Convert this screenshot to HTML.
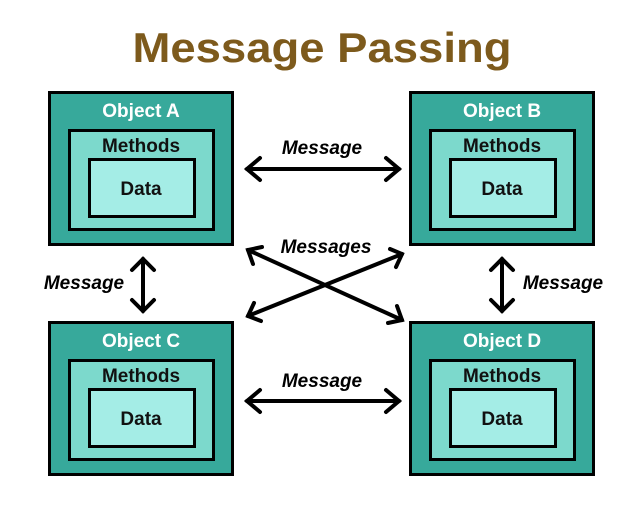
<!DOCTYPE html>
<html><head><meta charset="utf-8"><style>
html,body{margin:0;padding:0;background:#fff;width:644px;height:516px;overflow:hidden}
svg{display:block}
text{font-family:"Liberation Sans",sans-serif;font-weight:bold}
</style></head><body>
<svg width="644" height="516" viewBox="0 0 644 516">
<defs>
<g id="obj">
<rect x="1.5" y="1.5" width="183" height="152" fill="#37a99b" stroke="#000" stroke-width="3"/>
<rect x="21.5" y="39.5" width="144" height="99" fill="#7cd9cc" stroke="#000" stroke-width="3"/>
<rect x="41.5" y="68.5" width="105" height="57" fill="#a4ede6" stroke="#000" stroke-width="3"/>
<text x="93" y="61" font-size="19" text-anchor="middle" fill="#111">Methods</text>
<text x="93" y="104" font-size="19" text-anchor="middle" fill="#111">Data</text>
</g>
<marker id="ah" viewBox="0 0 10 10" refX="9" refY="5" markerWidth="5" markerHeight="5" orient="auto-start-reverse" markerUnits="userSpaceOnUse">
</marker>
</defs>
<text x="322" y="62" font-size="42" text-anchor="middle" fill="#7d5a1c" textLength="379" lengthAdjust="spacingAndGlyphs">Message Passing</text>

<use href="#obj" x="48" y="91"/>
<use href="#obj" x="409" y="91"/>
<use href="#obj" x="48" y="321"/>
<use href="#obj" x="409" y="321"/>
<text x="141" y="117" font-size="19" text-anchor="middle" fill="#fff">Object A</text>
<text x="502" y="117" font-size="19" text-anchor="middle" fill="#fff">Object B</text>
<text x="141" y="347" font-size="19" text-anchor="middle" fill="#fff">Object C</text>
<text x="502" y="347" font-size="19" text-anchor="middle" fill="#fff">Object D</text>

<g stroke="#000" stroke-width="4" fill="none" stroke-linecap="round" stroke-linejoin="miter">
<line x1="247" y1="169" x2="399" y2="169"/>
<polyline points="260,158 247,169 260,180"/>
<polyline points="386,158 399,169 386,180"/>
<line x1="247" y1="401" x2="399" y2="401"/>
<polyline points="260,390 247,401 260,412"/>
<polyline points="386,390 399,401 386,412"/>
<line x1="143" y1="259" x2="143" y2="311"/>
<polyline points="132,270 143,259 154,270"/>
<polyline points="132,300 143,311 154,300"/>
<line x1="502" y1="259" x2="502" y2="311"/>
<polyline points="491,270 502,259 513,270"/>
<polyline points="491,300 502,311 513,300"/>
<line x1="248" y1="250" x2="402" y2="320"/>
<polyline points="253,264 248,250 262,247"/>
<polyline points="388,323 402,320 397,306"/>
<line x1="248" y1="316" x2="402" y2="254"/>
<polyline points="261,321 248,316 254,303"/>
<polyline points="390,249 402,254 396,267"/>
</g>
<g font-style="italic" font-size="19" fill="#000">
<text x="322" y="154" text-anchor="middle">Message</text>
<text x="326" y="253" text-anchor="middle">Messages</text>
<text x="322" y="387" text-anchor="middle">Message</text>
<text x="84" y="289" text-anchor="middle">Message</text>
<text x="563" y="289" text-anchor="middle">Message</text>
</g>
</svg>
</body></html>
